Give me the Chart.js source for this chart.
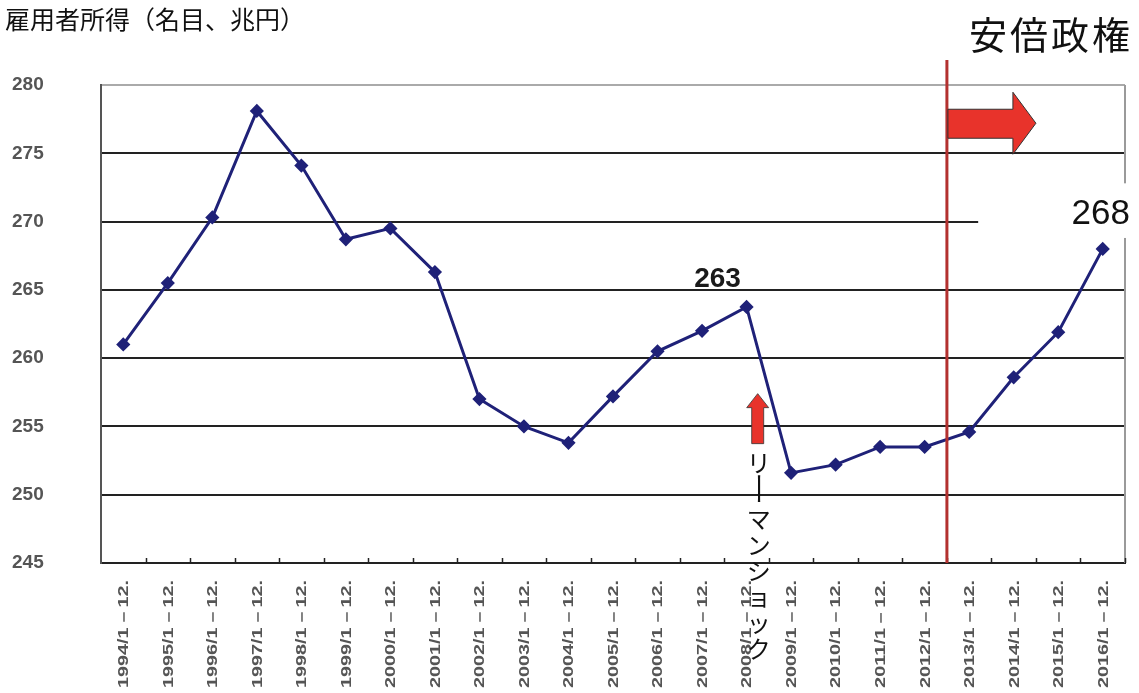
<!DOCTYPE html>
<html>
<head>
<meta charset="utf-8">
<script src="https://cdn.jsdelivr.net/npm/chart.js@4"></script>
<style>
  html, body { margin: 0; padding: 0; background: #fff; }
  canvas { display: block; }
</style>
</head>
<body>
<canvas id="chart1" width="1139" height="693"></canvas>
<script>
const labels = [
  '1994/1－12.', '1995/1－12.', '1996/1－12.', '1997/1－12.', '1998/1－12.',
  '1999/1－12.', '2000/1－12.', '2001/1－12.', '2002/1－12.', '2003/1－12.',
  '2004/1－12.', '2005/1－12.', '2006/1－12.', '2007/1－12.', '2008/1－12.',
  '2009/1－12.', '2010/1－12.', '2011/1－12.', '2012/1－12.', '2013/1－12.',
  '2014/1－12.', '2015/1－12.', '2016/1－12.'
];
const income = [
  261.0, 265.5, 270.3, 278.1, 274.1, 268.7, 269.5, 266.3, 257.0, 255.0,
  253.8, 257.2, 260.5, 262.0, 263.75, 251.6, 252.2, 253.5, 253.5, 254.6,
  258.6, 261.9, 268.0
];
const yMin = 245;
const yMax = 280;
const yStep = 5;

const title = '雇用者所得（名目、兆円）';
const abeLabel = '安倍政権';
const abeStart = 18.5;      // between 2012 and 2013
const lehmanLabel = 'リーマンショック';
const lehmanAt = 14.25;     // just after 2008
const peakLabel = '263';
const peakIndex = 14;
const lastLabel = '268';
const lastIndex = 22;

const lineColor = '#1f2178';

const annotate = {
  id: 'annotate',
  beforeDatasetsDraw(chart) {
    const {ctx, chartArea: a, scales: {x, y}} = chart;
    const step = x.getPixelForValue(1) - x.getPixelForValue(0);
    ctx.save();
    // right border
    ctx.strokeStyle = '#9a9a9a';
    ctx.lineWidth = 2;
    ctx.beginPath();
    ctx.moveTo(a.right, a.top);
    ctx.lineTo(a.right, a.bottom);
    ctx.stroke();
    // small ticks inside bottom axis
    ctx.strokeStyle = '#222';
    ctx.lineWidth = 1.5;
    for (let i = 0; i < labels.length; i++) {
      const bx = Math.round(x.getPixelForValue(i) + step / 2) + 0.5;
      ctx.beginPath();
      ctx.moveTo(bx, a.bottom);
      ctx.lineTo(bx, a.bottom - 5);
      ctx.stroke();
    }
    // white box behind the last value
    ctx.fillStyle = '#fff';
    const bx0 = x.getPixelForValue(19) + 9;
    const by0 = y.getPixelForValue(272.8);
    const by1 = y.getPixelForValue(268.8);
    ctx.fillRect(bx0, by0, chart.width - bx0, by1 - by0);
    ctx.restore();
  },
  afterDatasetsDraw(chart) {
    const {ctx, chartArea: a, scales: {x, y}} = chart;
    ctx.save();
    // Abe line
    const lx = x.getPixelForValue(abeStart);
    ctx.strokeStyle = '#b3312f';
    ctx.lineWidth = 3;
    ctx.beginPath();
    ctx.moveTo(lx, a.top - 25);
    ctx.lineTo(lx, a.bottom);
    ctx.stroke();
    // Abe arrow to the right
    const ay = y.getPixelForValue(277.2);
    ctx.fillStyle = '#e8332b';
    ctx.strokeStyle = '#333';
    ctx.lineWidth = 1;
    ctx.beginPath();
    ctx.moveTo(lx + 1, ay - 14);
    ctx.lineTo(lx + 66, ay - 14);
    ctx.lineTo(lx + 66, ay - 31);
    ctx.lineTo(lx + 89, ay);
    ctx.lineTo(lx + 66, ay + 31);
    ctx.lineTo(lx + 66, ay + 15);
    ctx.lineTo(lx + 1, ay + 15);
    ctx.closePath();
    ctx.fill();
    ctx.stroke();
    // Lehman arrow up
    const mx = x.getPixelForValue(lehmanAt);
    const ty = y.getPixelForValue(257.4);
    ctx.beginPath();
    ctx.moveTo(mx, ty);
    ctx.lineTo(mx + 11, ty + 14);
    ctx.lineTo(mx + 6, ty + 14);
    ctx.lineTo(mx + 6, ty + 50);
    ctx.lineTo(mx - 6, ty + 50);
    ctx.lineTo(mx - 6, ty + 14);
    ctx.lineTo(mx - 11, ty + 14);
    ctx.closePath();
    ctx.fill();
    ctx.lineWidth = 0.8;
    ctx.stroke();
    ctx.restore();
  },
  afterDraw(chart) {
    const {ctx, chartArea: a, scales: {x, y}} = chart;
    ctx.save();
    // x labels, rotated
    ctx.font = 'bold 14px "Liberation Sans", Arial, sans-serif';
    ctx.fillStyle = '#555';
    ctx.textAlign = 'right';
    ctx.textBaseline = 'middle';
    labels.forEach((t, i) => {
      const w = ctx.measureText(t).width;
      ctx.save();
      ctx.translate(x.getPixelForValue(i) + 1, a.bottom + 17);
      ctx.rotate(-Math.PI / 2);
      ctx.scale(108 / w, 1);
      ctx.fillText(t, 0, 0);
      ctx.restore();
    });

    // title
    ctx.fillStyle = '#111';
    ctx.textAlign = 'left';
    ctx.font = '25px "Noto Sans CJK JP", sans-serif';
    ctx.fillText(title, 5, 19);

    // Abe label
    ctx.textAlign = 'right';
    ctx.font = '38px "Noto Sans CJK JP", sans-serif';
    ctx.letterSpacing = '3px';
    ctx.fillText(abeLabel, 1133, 35);
    ctx.letterSpacing = '0px';

    // value labels
    ctx.textAlign = 'center';
    ctx.font = 'bold 28px "Liberation Sans", Arial, sans-serif';
    ctx.fillStyle = '#1a1a1a';
    ctx.fillText(peakLabel, x.getPixelForValue(peakIndex) - 29, y.getPixelForValue(263.75) - 28);
    ctx.font = '35px "Liberation Sans", Arial, sans-serif';
    ctx.fillStyle = '#111';
    ctx.fillText(lastLabel, x.getPixelForValue(lastIndex) - 2, y.getPixelForValue(268) - 35);

    // Lehman vertical text
    ctx.font = '24px "Noto Sans CJK JP", sans-serif';
    ctx.fillStyle = '#111';
    const mx = x.getPixelForValue(lehmanAt) + 1;
    let cy = y.getPixelForValue(257.4) + 69;
    for (const ch of lehmanLabel) {
      ctx.save();
      ctx.translate(mx, cy);
      if (ch === 'ー') {
        ctx.rotate(Math.PI / 2);
        ctx.scale(1.4, 1);
      }
      ctx.fillText(ch, 0, 0);
      ctx.restore();
      cy += ch === 'ー' ? 30 : 26;
    }
    ctx.restore();
  }
};

const config = {
  type: 'line',
  data: {
    labels: labels,
    datasets: [{
      label: '雇用者所得',
      data: income,
      borderColor: lineColor,
      backgroundColor: lineColor,
      borderWidth: 3,
      pointStyle: 'rectRot',
      pointRadius: 5,
      pointBackgroundColor: lineColor,
      pointBorderColor: lineColor,
      tension: 0
    }]
  },
  options: {
    responsive: false,
    animation: false,
    devicePixelRatio: 1,
    layout: { padding: { left: 12, right: 14, top: 85, bottom: 0 } },
    plugins: {
      legend: { display: false },
      tooltip: { enabled: false }
    },
    scales: {
      x: {
        type: 'category',
        offset: true,
        grid: { display: false },
        border: { display: true, color: '#222', width: 2 },
        ticks: { display: false },
        afterFit: s => { s.height = 130; }
      },
      y: {
        min: yMin,
        max: yMax,
        border: { display: true, color: '#555', width: 2 },
        grid: {
          drawTicks: false,
          color: c => c.tick && c.tick.value === yMax ? '#aaa' : '#222',
          lineWidth: 2
        },
        ticks: {
          stepSize: yStep,
          crossAlign: 'far',
          padding: 0,
          color: '#555',
          font: { family: '"Liberation Sans", Arial, sans-serif', size: 19, weight: 'bold' }
        },
        afterFit: s => { s.width = 89; }
      }
    }
  },
  plugins: [annotate]
};

const chart1 = new Chart(document.getElementById('chart1'), config);
</script>
</body>
</html>
